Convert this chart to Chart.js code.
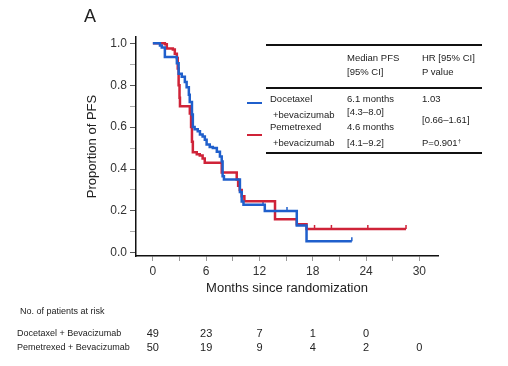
<!DOCTYPE html>
<html>
<head>
<meta charset="utf-8">
<script src="https://cdn.jsdelivr.net/npm/chart.js@4.4.1/dist/chart.umd.min.js"></script>
<style>
  body { margin: 0; background: #fff; }
  #wrap { position: relative; width: 508px; height: 366px; font-family: "Liberation Sans", Arial, sans-serif; color: #222; }
  #chart { position: absolute; left: 0; top: 0; }
  .t { position: absolute; white-space: nowrap; font-size: 9.5px; line-height: 10px; }
  .r { font-size: 9px; }
  .n { position: absolute; font-size: 11px; line-height: 12px; width: 30px; text-align: center; color: #222; }
  .rule { position: absolute; left: 266px; width: 216px; height: 0; border-top: 2px solid #111; }
  .key { position: absolute; left: 247px; width: 15px; height: 0; border-top: 2.5px solid; }
</style>
</head>
<body>
<div id="wrap">
  <canvas id="chart" width="508" height="366"></canvas>
  <div class="t" style="left:84px;top:6px;font-size:18px;line-height:20px;color:#222">A</div>

  <div class="rule" style="top:44px"></div>
  <div class="rule" style="top:87px"></div>
  <div class="rule" style="top:152px"></div>
  <div class="key" style="top:102px;border-color:#1f5fcc"></div>
  <div class="key" style="top:134px;border-color:#cf2338"></div>

  <div class="t" style="left:347px;top:53px">Median PFS</div>
  <div class="t" style="left:347px;top:67px">[95% CI]</div>
  <div class="t" style="left:422px;top:53px">HR [95% CI]</div>
  <div class="t" style="left:422px;top:67px">P value</div>

  <div class="t" style="left:270px;top:94px">Docetaxel</div>
  <div class="t" style="left:273px;top:110px">+bevacizumab</div>
  <div class="t" style="left:270px;top:122px">Pemetrexed</div>
  <div class="t" style="left:273px;top:138px">+bevacizumab</div>

  <div class="t" style="left:347px;top:94px">6.1 months</div>
  <div class="t" style="left:347px;top:107px">[4.3–8.0]</div>
  <div class="t" style="left:347px;top:122px">4.6 months</div>
  <div class="t" style="left:347px;top:138px">[4.1–9.2]</div>

  <div class="t" style="left:422px;top:94px">1.03</div>
  <div class="t" style="left:422px;top:115px">[0.66–1.61]</div>
  <div class="t" style="left:422px;top:138px">P=0.901<span style="font-size:6px;vertical-align:top;line-height:6px">†</span></div>

  <div class="t r" style="left:20px;top:306px">No. of patients at risk</div>
  <div class="t r" style="left:17px;top:328px">Docetaxel + Bevacizumab</div>
  <div class="t r" style="left:17px;top:342px">Pemetrexed + Bevacizumab</div>
  <div id="risk"></div>
</div>
<script>
// Kaplan-Meier step points (months, proportion)
const docetaxelMonths = [0, 0.8, 1.0, 1.35, 2.7, 2.9, 3.25, 3.6, 3.8, 4.05, 4.15, 4.4, 4.5, 4.7, 5.05, 5.3, 5.6, 5.85, 6.05, 6.4, 6.75, 7.2, 7.55, 7.75, 7.85, 8.0, 9.8, 10.0, 10.2, 12.6, 16.2, 17.3, 22.4];
const docetaxelPFS = [1.0, 0.99, 0.98, 0.935, 0.905, 0.855, 0.84, 0.815, 0.79, 0.755, 0.72, 0.66, 0.60, 0.59, 0.58, 0.565, 0.555, 0.54, 0.517, 0.505, 0.5, 0.483, 0.46, 0.436, 0.365, 0.35, 0.29, 0.245, 0.23, 0.2, 0.13, 0.055, 0.055];
const pemetrexedMonths = [0, 1.35, 1.57, 2.25, 2.47, 2.7, 2.8, 2.9, 3.0, 3.05, 4.16, 4.3, 4.4, 4.5, 4.94, 5.28, 5.6, 5.84, 7.75, 9.44, 9.6, 9.78, 10.0, 10.3, 13.75, 16.2, 17.3, 28.5];
const pemetrexedPFS = [1.0, 0.995, 0.975, 0.97, 0.95, 0.93, 0.88, 0.80, 0.74, 0.70, 0.665, 0.60, 0.53, 0.48, 0.47, 0.465, 0.45, 0.43, 0.384, 0.35, 0.32, 0.3, 0.27, 0.246, 0.16, 0.137, 0.114, 0.114];

// censored observations (months)
const docetaxelCensored = [12.4, 15.1, 22.4];
const pemetrexedCensored = [18.2, 20.1, 24.2, 28.5];

const xTicks = [0, 3, 6, 9, 12, 15, 18, 21, 24, 27, 30];
const yTicks = [0, 0.1, 0.2, 0.3, 0.4, 0.5, 0.6, 0.7, 0.8, 0.9, 1.0];

const riskMonths = [0, 6, 12, 18, 24, 30];
const docetaxelAtRisk = [49, 23, 7, 1, 0, null];
const pemetrexedAtRisk = [50, 19, 9, 4, 2, 0];

const BLUE = '#1f5fcc';
const RED = '#cf2338';

function points(xs, ys) {
  return xs.map((x, i) => ({ x: x, y: ys[i] }));
}

// value of the step curve at time t
function stepValue(xs, ys, t) {
  let v = ys[0];
  for (let i = 0; i < xs.length; i++) {
    if (xs[i] <= t) v = ys[i];
  }
  return v;
}

function censorPoints(times, xs, ys) {
  return times.map((t) => ({ x: t, y: stepValue(xs, ys, t) }));
}

const whiteBg = {
  id: 'whiteBg',
  beforeDraw(chart) {
    const c = chart.ctx;
    c.save();
    c.fillStyle = '#fff';
    c.fillRect(0, 0, chart.width, chart.height);
    c.restore();
  }
};

const chart = new Chart(document.getElementById('chart'), {
  type: 'line',
  data: {
    datasets: [
      {
        label: 'Docetaxel + bevacizumab',
        data: points(docetaxelMonths, docetaxelPFS),
        borderColor: BLUE,
        borderWidth: 2.5,
        stepped: true,
        pointRadius: 0,
        fill: false
      },
      {
        label: 'Pemetrexed + bevacizumab',
        data: points(pemetrexedMonths, pemetrexedPFS),
        borderColor: RED,
        borderWidth: 2.5,
        stepped: true,
        pointRadius: 0,
        fill: false
      },
      {
        label: 'censored D',
        data: censorPoints(docetaxelCensored, docetaxelMonths, docetaxelPFS),
        showLine: false,
        pointStyle: 'dash',
        rotation: 270,
        pointRadius: 4,
        borderColor: BLUE,
        pointBorderWidth: 1.5
      },
      {
        label: 'censored P',
        data: censorPoints(pemetrexedCensored, pemetrexedMonths, pemetrexedPFS),
        showLine: false,
        pointStyle: 'dash',
        rotation: 270,
        pointRadius: 4,
        borderColor: RED,
        pointBorderWidth: 1.5
      }
    ]
  },
  options: {
    responsive: false,
    animation: false,
    layout: { padding: { left: 81, top: 37, right: 70, bottom: 66 } },
    plugins: {
      legend: { display: false },
      tooltip: { enabled: false }
    },
    scales: {
      x: {
        type: 'linear',
        min: -1.9,
        max: 32.1,
        afterBuildTicks: (s) => { s.ticks = xTicks.map((v) => ({ value: v })); },
        afterFit: (s) => { s.height = 44; },
        grid: { drawOnChartArea: false, tickLength: 5, tickColor: '#999' },
        border: { color: '#111', width: 1.5 },
        ticks: {
          padding: 3,
          color: '#333',
          font: { family: '"Liberation Sans", Arial, sans-serif', size: 12 },
          maxRotation: 0,
          autoSkip: false,
          callback: (v) => (v % 6 === 0 ? String(v) : '')
        },
        title: {
          display: true,
          text: 'Months since randomization',
          color: '#222',
          font: { family: '"Liberation Sans", Arial, sans-serif', size: 13 }
        }
      },
      y: {
        min: -0.015,
        max: 1.03,
        afterBuildTicks: (s) => { s.ticks = yTicks.map((v) => ({ value: v })); },
        afterFit: (s) => { s.width = 55; },
        grid: {
          drawOnChartArea: false,
          tickLength: 6,
          tickColor: (ctx) => (Math.round(ctx.tick.value * 10) % 2 === 0 ? '#555' : '#aaa')
        },
        border: { color: '#111', width: 1.5 },
        ticks: {
          padding: 3,
          color: '#333',
          autoSkip: false,
          font: { family: '"Liberation Sans", Arial, sans-serif', size: 12 },
          callback: (v) => (Math.round(v * 10) % 2 === 0 ? v.toFixed(1) : '')
        },
        title: {
          display: true,
          text: 'Proportion of PFS',
          color: '#222',
          font: { family: '"Liberation Sans", Arial, sans-serif', size: 13 }
        }
      }
    }
  },
  plugins: [whiteBg]
});

// numbers at risk, placed under the month ticks of the x scale
const risk = document.getElementById('risk');
const xScale = chart.scales.x;
riskMonths.forEach((m, i) => {
  const px = xScale.getPixelForValue(m);
  [[docetaxelAtRisk[i], 327], [pemetrexedAtRisk[i], 341]].forEach(([val, top]) => {
    if (val === null) return;
    const d = document.createElement('div');
    d.className = 'n';
    d.style.left = (px - 15) + 'px';
    d.style.top = top + 'px';
    d.textContent = val;
    risk.appendChild(d);
  });
});
</script>
</body>
</html>
